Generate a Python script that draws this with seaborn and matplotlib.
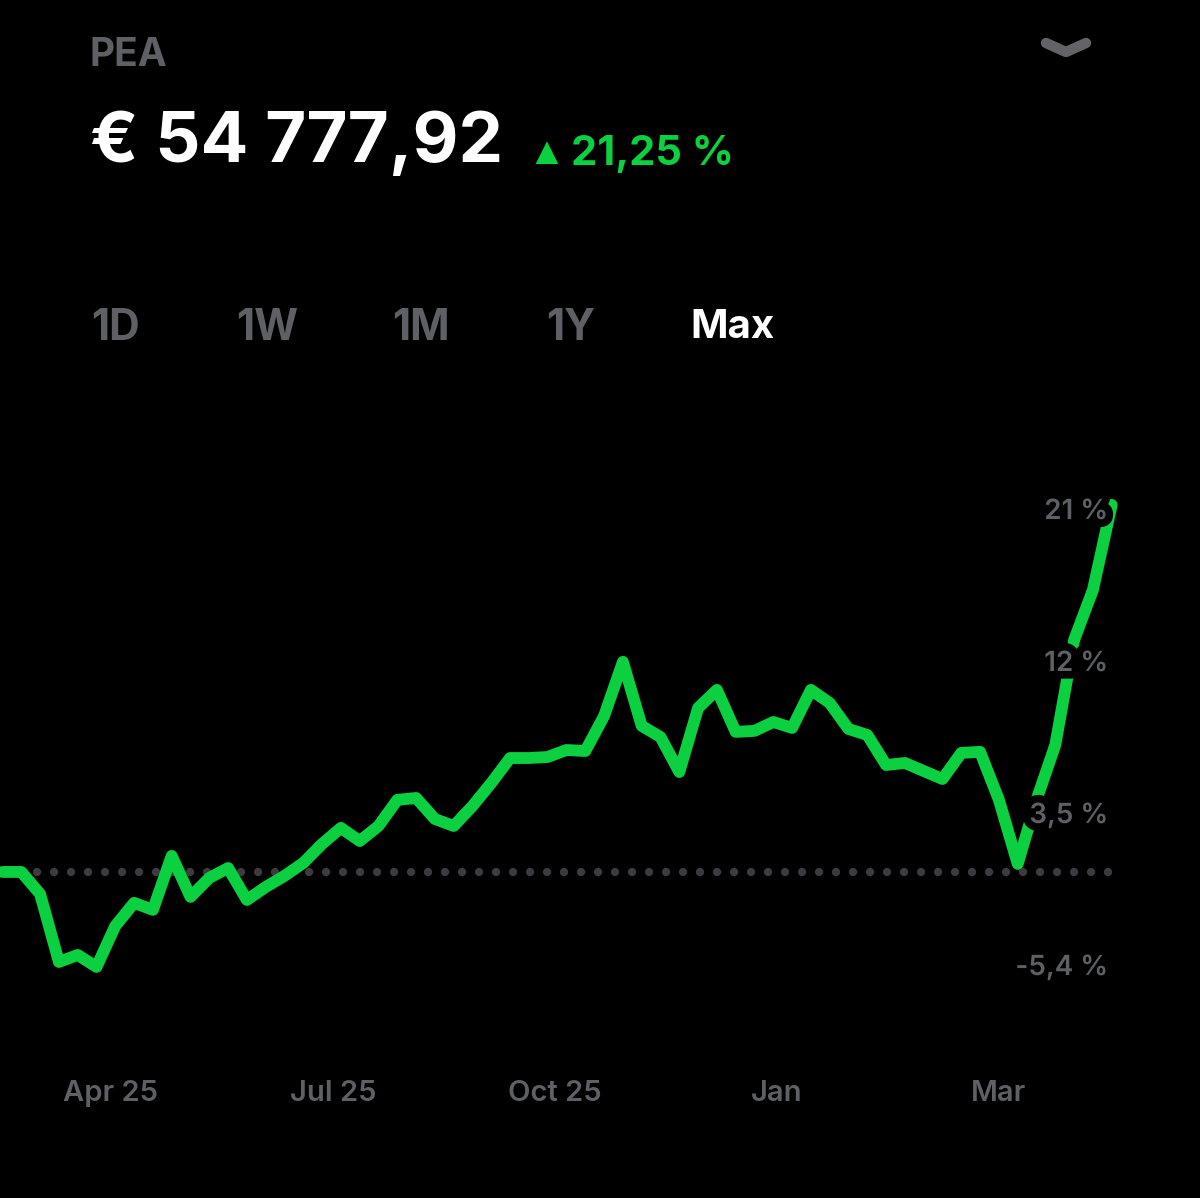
import matplotlib
matplotlib.use('Agg')
import matplotlib.pyplot as plt
import matplotlib.patheffects as pe
from matplotlib.lines import Line2D
import pandas as pd
import seaborn as sns

# Performance in %, one point per week
weeks = list(range(60))
perf = [0, 0, -1.29, -5.27, -4.86, -5.56, -3.16, -1.81, -2.22, 0.94,
        -1.46, -0.35, 0.23, -1.64, -0.88, -0.23, 0.53, 1.64, 2.58, 1.81,
        2.69, 4.22, 4.33, 3.10, 2.69, 3.86, 5.21, 6.67, 6.67, 6.73,
        7.14, 7.08, 9.13, 12.30, 8.55, 7.90, 5.85, 9.60, 10.66, 8.20,
        8.26, 8.78, 8.43, 10.66, 9.89, 8.37, 8.02, 6.26, 6.38, 5.91,
        5.44, 6.97, 7.03, 4.22, 0.47, 4.22, 7.44, 13.58, 16.51, 21.49]

x_ticks = [5.77, 17.58, 29.39, 41.2, 53.0]
x_labels = ['Apr 25', 'Jul 25', 'Oct 25', 'Jan', 'Mar']
y_ticks = [21.25, 12.35, 3.45, -5.45]
y_labels = ['21 %', '12 %', '3,5 %', '-5,4 %']
periods = ['1D', '1W', '1M', '1Y', 'Max']
period_x = [91, 236, 392, 546, 690]

GREEN = '#0bd03f'
GREY = '#5f6066'
W, H = 1200, 1198

sns.set_theme(style='dark', rc={'axes.facecolor': 'black', 'figure.facecolor': 'black'})
plt.rcParams['font.family'] = ['Inter', 'DejaVu Sans']

fig = plt.figure(figsize=(W / 100, H / 100), dpi=100)
ax = fig.add_axes([0, (H - 1060) / H, 1, 660 / H])

df = pd.DataFrame({'week': weeks, 'perf': perf})

# dotted zero line
ax.plot([1.835, 59], [0, 0], color='#3c3c40', lw=6,
        ls=(0, (0.01, 2.03)), dash_capstyle='round', zorder=1)

sns.lineplot(data=df, x='week', y='perf', color=GREEN, lw=8.5, ax=ax, zorder=2,
             solid_joinstyle='round', solid_capstyle='round', clip_on=False)

ax.set_xlim(-2.5 / 18.8, (W - 2.5) / 18.8)
ax.set_ylim(-11.01, 27.63)
ax.set_xlabel('')
ax.set_ylabel('')
ax.set_axisbelow(False)
for s in ax.spines.values():
    s.set_visible(False)
ax.grid(False)

ax.set_xticks(x_ticks)
ax.set_xticklabels(x_labels, fontsize=21, fontweight='semibold', color=GREY)
ax.tick_params(axis='x', length=0, pad=14.5)
ax.yaxis.tick_right()
ax.set_yticks(y_ticks)
ax.set_yticklabels(y_labels, fontsize=20, fontweight='semibold', color=GREY, ha='right')
ax.tick_params(axis='y', length=0, pad=-66)
for lab in ax.get_yticklabels():
    lab.set_path_effects([pe.withStroke(linewidth=11, foreground='black')])


def put_text(x, y, s, **kw):
    fig.text(x / W, 1 - y / H, s, va='center', **kw)


put_text(90, 56, 'PEA', fontsize=28, fontweight='bold', color=GREY)
put_text(90, 143, '€ 54 777,92', fontsize=51, fontweight='bold', color='white')
put_text(571, 154, '21,25 %', fontsize=30, fontweight='bold', color=GREEN)

for x, p in zip(period_x, periods):
    if p == 'Max':
        put_text(x, 328, p, fontsize=29, fontweight='bold', color='white')
    else:
        put_text(x, 328, p, fontsize=30.5, fontweight='bold', color=GREY)

# small triangle and chevron of the header
fig.add_artist(Line2D([546.5 / W], [1 - 153.5 / H], marker='^', ms=11, color=GREEN,
                      mec=GREEN, mew=3, mfc=GREEN, transform=fig.transFigure))
fig.add_artist(Line2D([1046 / W, 1066 / W, 1086 / W], [1 - 43 / H, 1 - 52 / H, 1 - 43 / H],
                      color='#636468', lw=7.5, solid_capstyle='round', solid_joinstyle='round',
                      transform=fig.transFigure))

fig.savefig('out.png', dpi=100, facecolor='black')
